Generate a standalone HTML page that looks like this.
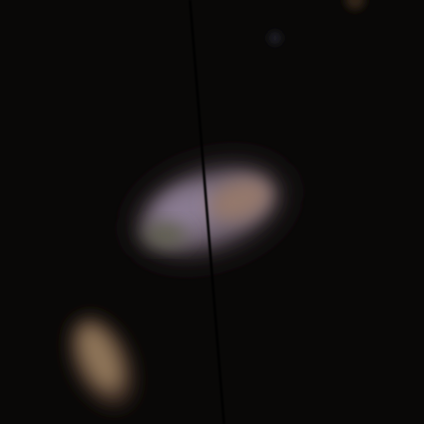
<!DOCTYPE html>
<html><head><meta charset="utf-8"><style>
html,body{margin:0;padding:0;background:#070605;}
svg{display:block}
</style></head><body>
<svg width="424" height="424" viewBox="0 0 424 424">
<defs>
<filter id="b20" x="-50%" y="-50%" width="200%" height="200%"><feGaussianBlur stdDeviation="14"/></filter>
<filter id="b10" x="-50%" y="-50%" width="200%" height="200%"><feGaussianBlur stdDeviation="9"/></filter>
<filter id="b4" x="-50%" y="-50%" width="200%" height="200%"><feGaussianBlur stdDeviation="4"/></filter>
<filter id="b1"><feGaussianBlur stdDeviation="0.8"/></filter>
</defs>
<rect width="424" height="424" fill="#090807"/>
<g>
<ellipse cx="210" cy="210" rx="80" ry="46" transform="rotate(-18 210 210)" fill="#2e262c" filter="url(#b20)"/>
<ellipse cx="207" cy="210" rx="66" ry="34" transform="rotate(-18 207 210)" fill="#6e6270" filter="url(#b10)"/>
<ellipse cx="190" cy="210" rx="34" ry="20" transform="rotate(-18 190 210)" fill="#8a7c92" filter="url(#b10)"/>
<ellipse cx="240" cy="200" rx="32" ry="20" transform="rotate(-18 240 200)" fill="#94786c" filter="url(#b10)"/>
<ellipse cx="165" cy="235" rx="22" ry="12" fill="#606050" filter="url(#b10)"/>
</g>
<g>
<ellipse cx="102" cy="362" rx="28" ry="48" transform="rotate(-25 102 362)" fill="#3a2c20" filter="url(#b10)"/>
<ellipse cx="100" cy="358" rx="18" ry="36" transform="rotate(-25 100 358)" fill="#8e7458" filter="url(#b10)"/>
</g>
<circle cx="275" cy="38" r="6" fill="#24212a" filter="url(#b4)"/>
<circle cx="355" cy="0" r="10" fill="#2e2212" filter="url(#b4)"/>
<line x1="190" y1="0" x2="224" y2="424" stroke="#040303" stroke-width="2.5" filter="url(#b1)"/>
</svg>
</body></html>
